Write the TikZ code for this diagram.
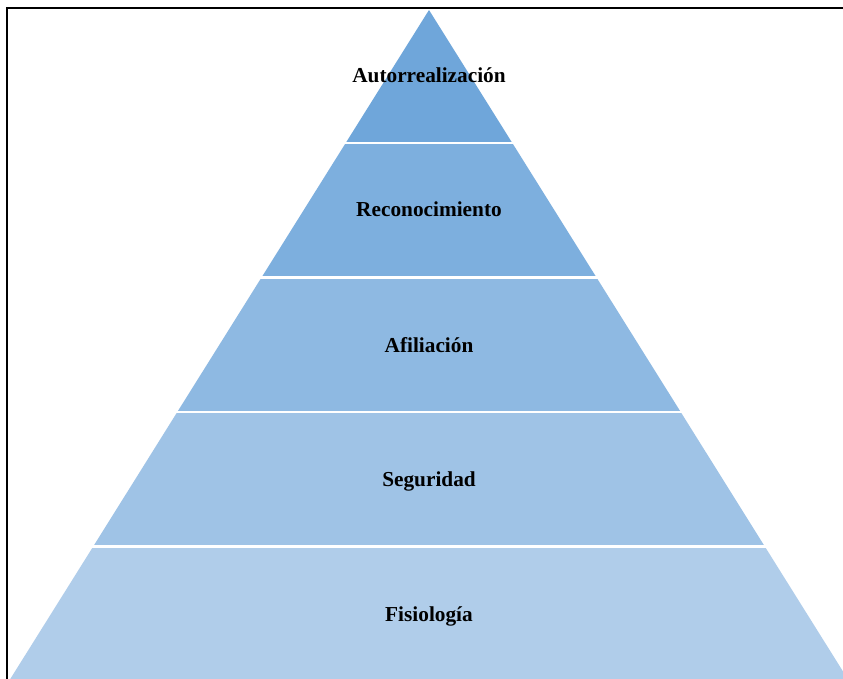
\documentclass[tikz,border=0pt]{standalone}
\usepackage{fontspec}
\setmainfont{Liberation Serif}
\definecolor{lay1}{HTML}{6FA6DA}
\definecolor{lay2}{HTML}{7DAFDE}
\definecolor{lay3}{HTML}{8EB9E2}
\definecolor{lay4}{HTML}{9FC3E6}
\definecolor{lay5}{HTML}{B0CDEA}
\tikzset{
  lbl/.style={font=\fontsize{21.3}{24}\selectfont\bfseries, text=black, inner sep=0pt, anchor=base},
  gap/.style={draw=white, line width=2.5pt},
  frame/.style={draw=black, line width=2pt}
}
\begin{document}
\begin{tikzpicture}[x=1pt,y=-1pt]
\useasboundingbox (0,0) rectangle (843,679);
\fill[white] (0,0) rectangle (843,679);
\clip (0,0) rectangle (843,679);
% frame
\draw[frame] (7,679) -- (7,8) -- (845,8);
% pyramid layers
\fill[lay1] (429,10) -- (512.3,143) -- (345.7,143) -- cycle;
\fill[lay2] (345.7,143) -- (512.3,143) -- (596.5,277.5) -- (261.5,277.5) -- cycle;
\fill[lay3] (261.5,277.5) -- (596.5,277.5) -- (680.7,412) -- (177.3,412) -- cycle;
\fill[lay4] (177.3,412) -- (680.7,412) -- (764.8,546.5) -- (93.2,546.5) -- cycle;
\fill[lay5] (93.2,546.5) -- (764.8,546.5) -- (849,681) -- (9,681) -- cycle;
% separating gaps
\draw[gap] (340,143) -- (518,143);
\draw[gap] (256,277.5) -- (602,277.5);
\draw[gap] (172,412) -- (686,412);
\draw[gap] (88,546.5) -- (770,546.5);
% labels
\node[lbl] (l1) at (429,82.5) {Autorrealización};
\node[lbl] (l2) at (429,217) {Reconocimiento};
\node[lbl] (l3) at (429,352) {Afiliación};
\node[lbl] (l4) at (429,486.5) {Seguridad};
\node[lbl] (l5) at (429,621.5) {Fisiología};
\end{tikzpicture}
\end{document}
